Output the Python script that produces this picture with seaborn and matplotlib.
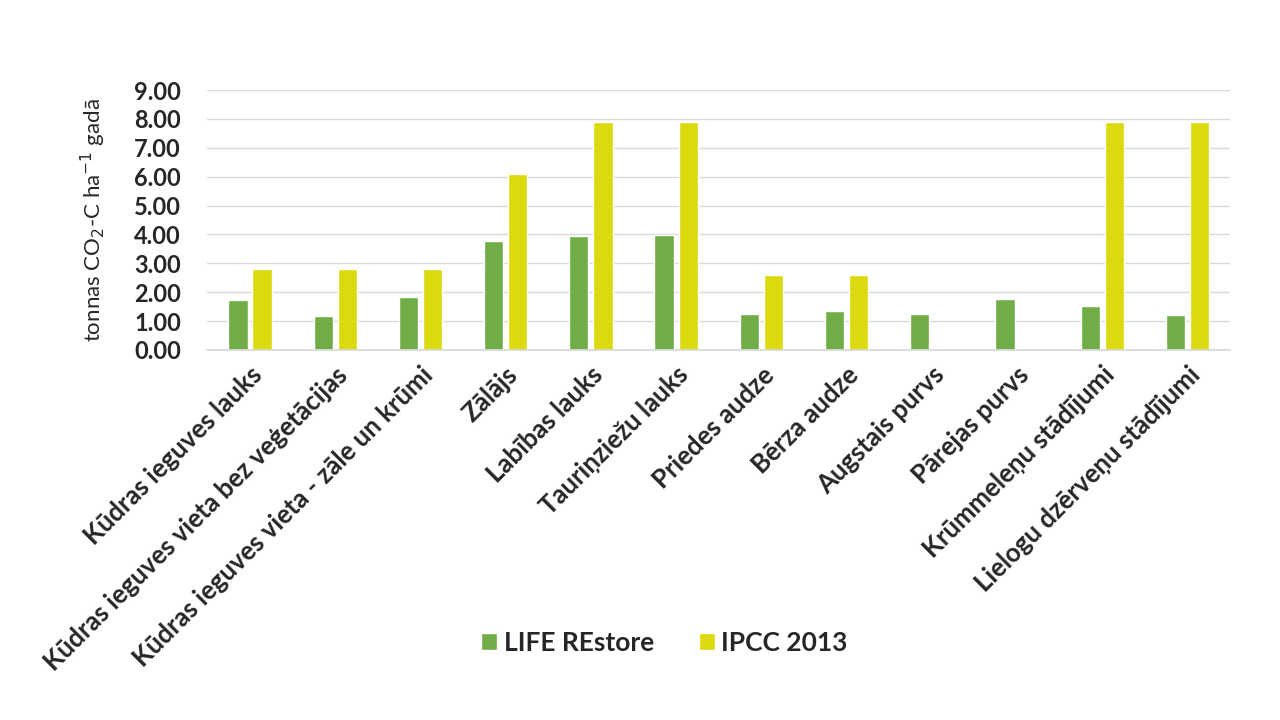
import matplotlib
matplotlib.use("Agg")
import matplotlib.pyplot as plt
import seaborn as sns
import pandas as pd
import numpy as np

categories = ["Kūdras ieguves lauks", "Kūdras ieguves vieta bez veģetācijas",
              "Kūdras ieguves vieta - zāle un krūmi", "Zālājs", "Labības lauks",
              "Tauriņziežu lauks", "Priedes audze", "Bērza audze", "Augstais purvs",
              "Pārejas purvs", "Krūmmeleņu stādījumi", "Lielogu dzērveņu stādījumi"]
life_restore = [1.73, 1.17, 1.83, 3.76, 3.94, 3.97, 1.24, 1.35, 1.24, 1.76, 1.52, 1.21]
ipcc_2013 = [2.80, 2.80, 2.80, 6.08, 7.88, 7.88, 2.60, 2.60, np.nan, np.nan, 7.88, 7.88]
series_names = ["LIFE REstore", "IPCC 2013"]
yticks = [0, 1, 2, 3, 4, 5, 6, 7, 8, 9]

df = pd.DataFrame({
    "cat": categories * 2,
    "val": life_restore + ipcc_2013,
    "series": [series_names[0]] * len(categories) + [series_names[1]] * len(categories),
})

sns.set_theme(style="white")
plt.rcParams['font.family'] = ['Lato', 'DejaVu Sans']

fig = plt.figure(figsize=(12.8, 7.2), dpi=100)
ax = fig.add_axes([0.162, 0.514, 0.799, 0.361])
sns.barplot(data=df, x="cat", y="val", hue="series", order=categories,
            hue_order=series_names, palette=["#70AD47", "#DDD90F"],
            width=0.565, gap=0.2, ax=ax, legend=True, saturation=1)

ax.set_ylim(0, 9)
ax.set_xlim(-0.5, len(categories) - 0.5)
ax.set_yticks(yticks)
ax.set_yticklabels([f"{v:.2f}" for v in yticks], fontsize=17, fontweight="bold")
ax.yaxis.grid(True, color="#D9D9D9", linewidth=1)
ax.set_axisbelow(True)
for s in ["top", "right", "left"]:
    ax.spines[s].set_visible(False)
ax.spines["bottom"].set_color("#D9D9D9")
ax.tick_params(axis="y", length=0, pad=19)
ax.tick_params(axis="x", length=0, pad=9)
ax.set_xticks(range(len(categories)))
ax.set_xticklabels(categories, rotation=45, ha="right", rotation_mode="anchor",
                   fontsize=18.5, fontweight="bold")
ax.set_xlabel("")
ax.set_ylabel("tonnas CO$_2$-C ha$^{-1}$ gadā", fontsize=16)
ax.yaxis.set_label_coords(-0.097, 0.5)

ax.legend(loc="center", bbox_to_anchor=(0.519, 0.107), bbox_transform=fig.transFigure,
          ncol=2, frameon=False, prop={"size": 19, "weight": "bold"},
          handlelength=0.6, handleheight=0.6, columnspacing=1.7, handletextpad=0.25)

fig.savefig("out.png", dpi=100)
